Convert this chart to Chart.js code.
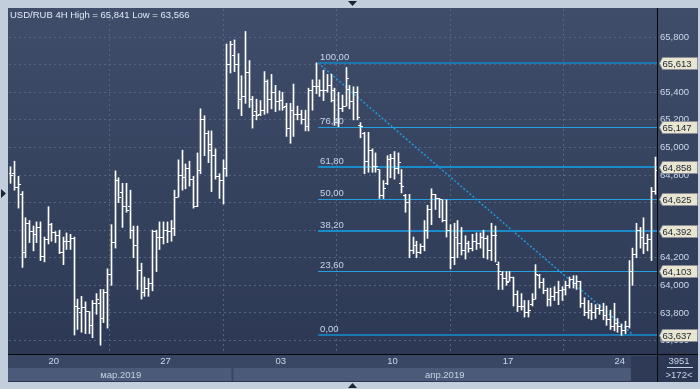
<!DOCTYPE html>
<html>
<head>
<meta charset="utf-8">
<script src="https://cdn.jsdelivr.net/npm/chart.js@4/dist/chart.umd.min.js"></script>
<style>
html, body { margin: 0; padding: 0; background: #c3cedd; }
canvas { display: block; }
</style>
</head>
<body>
<canvas id="chart" width="700" height="389"></canvas>
<script>
"use strict";

// USD/RUB 4H, bars (open, high, low, close)
const opens = [
    64.81, 64.81, 64.71, 64.66, 64.24, 64.45, 64.39, 64.37, 64.42, 64.21,
    64.33, 64.44, 64.38, 64.36, 64.24, 64.32, 64.32, 64.34, 63.85, 63.80,
    63.84, 63.81, 63.71, 63.87, 63.87, 63.76, 63.95, 64.08, 64.31, 64.76,
    64.67, 64.57, 64.57, 64.40, 64.29, 64.11, 63.95, 63.98, 64.01, 64.39,
    64.35, 64.35, 64.40, 64.39, 64.41, 64.64, 64.80, 64.78, 64.85, 64.77,
    64.57, 64.83, 65.20, 65.10, 65.02, 64.94, 64.79, 64.76, 64.85, 65.60,
    65.67, 65.60, 65.35, 65.37, 65.54, 65.35, 65.26, 65.24, 65.27, 65.48,
    65.35, 65.40, 65.33, 65.34, 65.30, 65.14, 65.27, 65.24, 65.24, 65.20,
    65.15, 65.41, 65.44, 65.44, 65.41, 65.41, 65.45, 65.34, 65.18, 65.28,
    65.30, 65.42, 65.33, 65.40, 65.16, 65.10, 64.90, 64.98, 64.86, 64.84,
    64.65, 64.74, 64.91, 64.92, 64.85, 64.74, 64.65, 64.60, 64.25, 64.29,
    64.24, 64.28, 64.40, 64.55, 64.66, 64.63, 64.62, 64.47, 64.40, 64.20,
    64.35, 64.30, 64.25, 64.30, 64.27, 64.32, 64.30, 64.35, 64.34, 64.25,
    64.36, 64.15, 64.08, 64.05, 64.03, 64.06, 63.93, 63.85, 63.85, 63.80,
    63.86, 63.90, 64.07, 64.02, 63.96, 63.90, 63.92, 63.95, 63.96, 63.97,
    64.00, 64.04, 64.01, 64.03, 63.87, 63.80, 63.82, 63.80, 63.83, 63.82,
    63.78, 63.75, 63.70, 63.72, 63.70, 63.67, 63.70, 64.10, 64.22, 64.40,
    64.35, 64.30, 64.33, 64.68
];
const highs = [
    64.86, 64.90, 64.79, 64.68, 64.49, 64.47, 64.43, 64.46, 64.46, 64.35,
    64.57, 64.45, 64.39, 64.40, 64.35, 64.38, 64.37, 64.35, 63.90, 63.92,
    63.88, 63.81, 63.89, 63.94, 63.97, 63.97, 64.12, 64.44, 64.83, 64.78,
    64.74, 64.74, 64.69, 64.43, 64.43, 64.16, 64.06, 64.05, 64.40, 64.40,
    64.46, 64.46, 64.46, 64.47, 64.69, 64.91, 64.98, 64.88, 64.90, 64.79,
    64.96, 65.28, 65.23, 65.12, 65.12, 64.99, 64.81, 64.91, 65.75, 65.77,
    65.78, 65.68, 65.52, 65.841, 65.63, 65.37, 65.35, 65.34, 65.55, 65.49,
    65.53, 65.45, 65.41, 65.40, 65.32, 65.32, 65.46, 65.30, 65.27, 65.27,
    65.43, 65.49, 65.613, 65.49, 65.56, 65.53, 65.53, 65.43, 65.40, 65.38,
    65.58, 65.45, 65.44, 65.44, 65.18, 65.11, 65.11, 64.99, 64.96, 64.84,
    64.76, 64.94, 64.95, 64.97, 64.96, 64.84, 64.66, 64.66, 64.35, 64.32,
    64.30, 64.47, 64.58, 64.70, 64.66, 64.63, 64.62, 64.62, 64.44, 64.45,
    64.47, 64.42, 64.36, 64.32, 64.37, 64.38, 64.38, 64.40, 64.36, 64.45,
    64.43, 64.17, 64.10, 64.10, 64.10, 64.06, 63.96, 63.94, 63.89, 63.89,
    63.94, 64.15, 64.08, 64.05, 63.98, 63.98, 63.99, 64.03, 63.99, 64.03,
    64.06, 64.07, 64.07, 64.03, 63.91, 63.89, 63.87, 63.86, 63.86, 63.87,
    63.85, 63.82, 63.87, 63.76, 63.72, 63.74, 64.18, 64.27, 64.45, 64.42,
    64.49, 64.37, 64.71, 64.93
];
const lows = [
    64.74, 64.69, 64.56, 64.13, 64.20, 64.31, 64.25, 64.31, 64.18, 64.17,
    64.30, 64.32, 64.31, 64.23, 64.15, 64.26, 64.26, 63.64, 63.68, 63.66,
    63.65, 63.65, 63.62, 63.79, 63.566, 63.73, 63.69, 64.00, 64.27, 64.60,
    64.42, 64.53, 64.34, 64.20, 63.97, 63.90, 63.92, 63.92, 63.96, 64.10,
    64.26, 64.30, 64.31, 64.32, 64.36, 64.64, 64.69, 64.70, 64.72, 64.56,
    64.57, 64.81, 64.94, 64.89, 64.68, 64.77, 64.63, 64.59, 64.79, 65.54,
    65.55, 65.28, 65.23, 65.32, 65.29, 65.14, 65.20, 65.23, 65.24, 65.25,
    65.28, 65.26, 65.27, 65.27, 65.08, 65.03, 65.08, 65.20, 65.17, 65.12,
    65.12, 65.27, 65.39, 65.37, 65.34, 65.40, 65.33, 65.16, 65.15, 65.26,
    65.30, 65.28, 65.20, 65.20, 65.07, 64.81, 64.82, 64.82, 64.82, 64.63,
    64.63, 64.73, 64.78, 64.77, 64.81, 64.67, 64.53, 64.20, 64.23, 64.20,
    64.23, 64.25, 64.34, 64.44, 64.55, 64.49, 64.46, 64.35, 64.12, 64.15,
    64.20, 64.22, 64.19, 64.24, 64.25, 64.26, 64.27, 64.20, 64.19, 64.18,
    64.17, 63.97, 63.97, 64.00, 64.03, 63.85, 63.81, 63.82, 63.77, 63.77,
    63.85, 63.90, 63.98, 63.94, 63.85, 63.85, 63.89, 63.86, 63.89, 63.93,
    63.98, 63.98, 63.97, 63.84, 63.78, 63.76, 63.75, 63.76, 63.79, 63.75,
    63.71, 63.68, 63.67, 63.66, 63.637, 63.65, 63.69, 64.00, 64.20, 64.27,
    64.23, 64.25, 64.18, 64.66
];
const closes = [
    64.80, 64.71, 64.73, 64.24, 64.45, 64.39, 64.37, 64.42, 64.21, 64.33,
    64.44, 64.38, 64.36, 64.24, 64.32, 64.32, 64.34, 63.85, 63.83, 63.84,
    63.81, 63.71, 63.87, 63.90, 63.76, 63.95, 64.08, 64.31, 64.76, 64.64,
    64.57, 64.54, 64.40, 64.29, 64.11, 63.95, 63.98, 64.01, 64.39, 64.35,
    64.35, 64.40, 64.39, 64.41, 64.64, 64.80, 64.78, 64.85, 64.77, 64.57,
    64.83, 65.20, 65.10, 64.98, 64.94, 64.79, 64.76, 64.85, 65.60, 65.75,
    65.60, 65.35, 65.37, 65.54, 65.35, 65.23, 65.23, 65.27, 65.48, 65.35,
    65.40, 65.33, 65.34, 65.29, 65.14, 65.27, 65.24, 65.24, 65.20, 65.15,
    65.41, 65.44, 65.44, 65.41, 65.41, 65.45, 65.41, 65.18, 65.28, 65.30,
    65.50, 65.33, 65.40, 65.22, 65.15, 64.90, 64.98, 64.86, 64.86, 64.65,
    64.70, 64.91, 64.92, 64.85, 64.89, 64.72, 64.60, 64.25, 64.29, 64.24,
    64.28, 64.40, 64.55, 64.66, 64.63, 64.62, 64.47, 64.40, 64.20, 64.35,
    64.30, 64.25, 64.30, 64.27, 64.32, 64.30, 64.35, 64.34, 64.25, 64.36,
    64.36, 64.10, 64.05, 64.02, 64.06, 63.93, 63.85, 63.85, 63.80, 63.82,
    63.90, 64.08, 64.02, 63.96, 63.90, 63.92, 63.95, 63.96, 63.97, 64.00,
    64.04, 64.01, 64.03, 63.87, 63.80, 63.82, 63.80, 63.83, 63.82, 63.78,
    63.75, 63.70, 63.72, 63.70, 63.67, 63.70, 64.10, 64.22, 64.40, 64.35,
    64.30, 64.33, 64.68, 64.83
];

// Axis labels
const weekLabels = ["20", "27", "03", "10", "17", "24"];
const weekStartBar = [12, 42, 73, 103, 134, 164];
const monthLabels = ["мар.2019", "апр.2019"];
const monthStartBar = [0, 60];
const priceTicks = [63.6, 63.8, 64.0, 64.2, 64.4, 64.6, 64.8, 65.0, 65.2, 65.4, 65.6, 65.8];

// Fibonacci retracement
const fibLabels = ["100,00", "76,40", "61,80", "50,00", "38,20", "23,60", "0,00"];
const fibPrices = [65.613, 65.147, 64.858, 64.625, 64.392, 64.103, 63.637];
const fibStartX = 82.5;
const trendEndX = 167.3;

const barCount = opens.length;
const xMin = -0.5;
const xMax = barCount - 0.5;

const FONT = "Liberation Sans, Arial, sans-serif";
const textColor = "#cdd8ea";
const gridColor = "#56657f";

function fmt(v, d) {
    return v.toFixed(d).replace(".", ",");
}

// Snap bars, ticks and level lines to whole pixels so they stay crisp
const snapPlugin = {
    id: "snap",
    beforeDatasetsDraw(chart) {
        chart.data.datasets.forEach((ds, di) => {
            const meta = chart.getDatasetMeta(di);
            meta.data.forEach(el => {
                if (ds.snap === "bar") {
                    el.x = Math.floor(el.x) + 0.5;
                } else if (ds.snap === "tick") {
                    el.x = Math.round(el.x);
                    el.y = Math.floor(el.y) + 0.5;
                } else if (ds.snap === "level") {
                    el.y = ds.borderWidth === 2 ? Math.round(el.y) : Math.floor(el.y) + 0.5;
                }
            });
        });
    }
};

// Bakgrund, ramar och texter
const decorPlugin = {
    id: "decor",
    beforeDraw(chart) {
        const ctx = chart.ctx;
        const a = chart.chartArea;
        ctx.save();
        ctx.fillStyle = "#c3cedd";
        ctx.fillRect(0, 0, chart.width, chart.height);
        const g = ctx.createLinearGradient(0, 8, 0, 382);
        g.addColorStop(0, "#3f4d6a");
        g.addColorStop(1, "#2b3752");
        ctx.fillStyle = g;
        ctx.fillRect(8, 8, 690, 374);
        // datum-rader
        const xs = chart.scales.x;
        ctx.fillStyle = "#3a4764";
        ctx.fillRect(8, a.bottom, a.right - 8, 14);
        ctx.fillStyle = "#4a5a78";
        ctx.fillRect(8, a.bottom + 14, a.right - 8, 13);
        ctx.fillStyle = "#2f3b56";
        const lastX = xs.getPixelForValue(weekStartBar[weekStartBar.length - 1] + 2.5);
        ctx.fillRect(lastX, a.bottom + 2, a.right - lastX, 25);
        // separator between month bands
        ctx.fillStyle = "#3a4764";
        const mx = xs.getPixelForValue(monthStartBar[1] - 0.5);
        ctx.fillRect(mx - 1, a.bottom + 14, 2, 13);
        ctx.restore();
    },
    afterDraw(chart) {
        const ctx = chart.ctx;
        const a = chart.chartArea;
        const xs = chart.scales.x;
        const ys = chart.scales.y;
        ctx.save();

        // fib level labels
        ctx.font = "9.5px " + FONT;
        ctx.textBaseline = "alphabetic";
        ctx.textAlign = "left";
        ctx.fillStyle = "#c6d6ee";
        const lx = xs.getPixelForValue(fibStartX) + 2;
        fibPrices.forEach((p, i) => {
            ctx.fillText(fibLabels[i], lx, ys.getPixelForValue(p) - 3);
        });

        // black separators
        ctx.fillStyle = "#05070b";
        ctx.fillRect(a.right, 8, 1, 374);
        ctx.fillRect(8, a.bottom, 690, 1);

        // price tags
        fibPrices.forEach(p => {
            const y = Math.round(ys.getPixelForValue(p)) + 0.5;
            const x0 = a.right + 2.5;
            ctx.beginPath();
            ctx.moveTo(x0, y);
            ctx.lineTo(x0 + 3, y - 6);
            ctx.lineTo(697.5, y - 6);
            ctx.lineTo(697.5, y + 6);
            ctx.lineTo(x0 + 3, y + 6);
            ctx.closePath();
            ctx.fillStyle = "#e8e6d1";
            ctx.fill();
            ctx.strokeStyle = "#8c9098";
            ctx.lineWidth = 1;
            ctx.stroke();
            ctx.fillStyle = "#1b2330";
            ctx.font = "9.5px " + FONT;
            ctx.textBaseline = "middle";
            ctx.fillText(fmt(p, 3), x0 + 3, y + 0.5);
        });

        // header
        ctx.textBaseline = "alphabetic";
        ctx.fillStyle = "#e2eaf5";
        ctx.font = "9.5px " + FONT;
        ctx.fillText("USD/RUB 4H High = " + fmt(Math.max(...highs), 3) +
            " Low = " + fmt(Math.min(...lows), 3), 10, 18);

        // month labels
        ctx.fillStyle = "#c6d2e6";
        ctx.textAlign = "center";
        ctx.textBaseline = "middle";
        monthLabels.forEach((m, i) => {
            const x1 = xs.getPixelForValue(monthStartBar[i] - 0.5);
            const x2 = i + 1 < monthStartBar.length ? xs.getPixelForValue(monthStartBar[i + 1] - 0.5) : a.right;
            ctx.fillText(m, (Math.max(x1, a.left) + x2) / 2, a.bottom + 21);
        });

        // corner counters
        ctx.fillText("3951", 679, a.bottom + 7);
        ctx.fillRect(667, a.bottom + 13, 26, 1);
        ctx.fillText(">172<", 679, a.bottom + 21);

        // frame arrows
        ctx.fillStyle = "#1c2533";
        ctx.beginPath();
        ctx.moveTo(348, 1); ctx.lineTo(357, 1); ctx.lineTo(352.5, 6); ctx.closePath();
        ctx.fill();
        ctx.beginPath();
        ctx.moveTo(348, 388); ctx.lineTo(357, 388); ctx.lineTo(352.5, 383); ctx.closePath();
        ctx.fill();
        ctx.beginPath();
        ctx.moveTo(1, 189); ctx.lineTo(6, 193.5); ctx.lineTo(1, 198); ctx.closePath();
        ctx.fill();
        ctx.restore();
    }
};

const tickOpts = {
    snap: "tick",
    pointStyle: "line",
    pointRadius: 1,
    pointBorderWidth: 1,
    pointBorderColor: "#ffffff",
    showLine: false
};

const datasets = [
    {
        type: "bar",
        snap: "bar",
        data: highs.map((h, i) => ({ x: i, y: [lows[i], h] })),
        backgroundColor: "#ffffff",
        barThickness: 1,
        borderWidth: 0
    },
    Object.assign({ type: "line", data: opens.map((o, i) => ({ x: i - 0.4, y: o })) }, tickOpts),
    Object.assign({ type: "line", data: closes.map((c, i) => ({ x: i + 0.4, y: c })) }, tickOpts)
];

fibPrices.forEach((p, i) => {
    const edge = i === 0 || i === fibPrices.length - 1;
    const mid = i === 2 || i === 4;
    datasets.push({
        type: "line",
        snap: "level",
        data: [{ x: fibStartX, y: p }, { x: xMax, y: p }],
        borderColor: edge ? "#1b78b2" : (mid ? "#1c8bcb" : "#22a0e2"),
        borderWidth: edge || mid ? 2 : 1,
        pointRadius: 0
    });
});

datasets.push({
    type: "line",
    data: [{ x: fibStartX, y: fibPrices[0] }, { x: trendEndX, y: fibPrices[fibPrices.length - 1] }],
    borderColor: "#1e9ae0",
    borderWidth: 1.5,
    borderDash: [2, 2],
    pointRadius: 0
});

new Chart(document.getElementById("chart"), {
    type: "bar",
    data: { datasets },
    plugins: [snapPlugin, decorPlugin],
    options: {
        responsive: false,
        animation: false,
        layout: { padding: { left: 9, top: 9, right: 2, bottom: 0 } },
        plugins: {
            legend: { display: false },
            tooltip: { enabled: false }
        },
        scales: {
            x: {
                type: "linear",
                position: "bottom",
                min: xMin,
                max: xMax,
                offset: false,
                afterBuildTicks: scale => {
                    scale.ticks = weekStartBar.map(b => ({ value: b - 0.5 }));
                },
                afterFit: scale => { scale.height = 35; },
                ticks: {
                    autoSkip: false,
                    maxRotation: 0,
                    padding: 2,
                    color: textColor,
                    font: { family: FONT, size: 9.5 },
                    callback: (v, i) => weekLabels[i]
                },
                grid: { color: gridColor, drawTicks: false },
                border: { display: false, dash: [2, 3] }
            },
            y: {
                type: "linear",
                position: "right",
                min: 63.502,
                max: 66.004,
                afterBuildTicks: scale => {
                    scale.ticks = priceTicks.map(v => ({ value: v }));
                },
                afterFit: scale => { scale.width = 41; },
                ticks: {
                    padding: 3,
                    color: textColor,
                    font: { family: FONT, size: 9.5 },
                    callback: v => fmt(v, 3)
                },
                grid: { color: gridColor, drawTicks: false },
                border: { display: false, dash: [2, 3] }
            }
        }
    }
});
</script>
</body>
</html>
